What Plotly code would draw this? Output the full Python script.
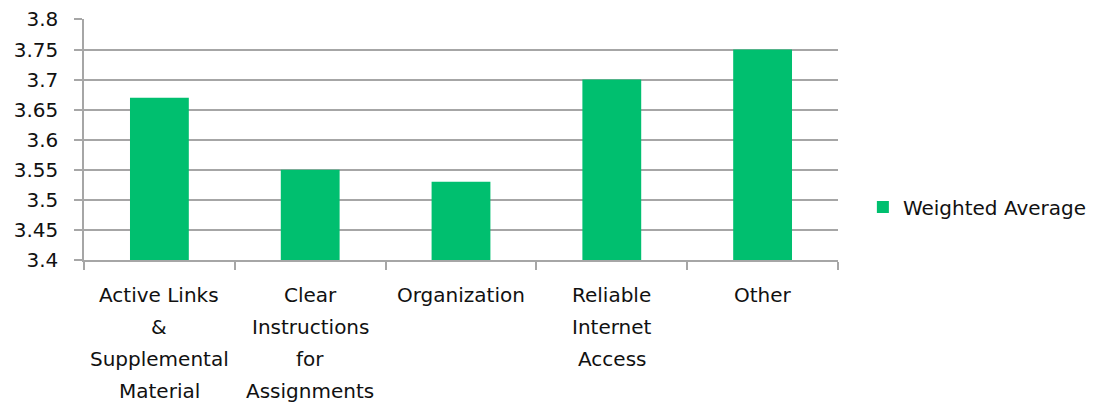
import plotly.graph_objects as go

categories = ["Active Links & Supplemental Material",
              "Clear Instructions for Assignments",
              "Organization",
              "Reliable Internet Access",
              "Other"]
label_lines = [["Active Links", "&", "Supplemental", "Material"],
               ["Clear", "Instructions", "for", "Assignments"],
               ["Organization"],
               ["Reliable", "Internet", "Access"],
               ["Other"]]
values = [3.67, 3.55, 3.53, 3.70, 3.75]
series_name = "Weighted Average"
y_ticks = [3.4, 3.45, 3.5, 3.55, 3.6, 3.65, 3.7, 3.75, 3.8]
y_ticktext = ["3.4", "3.45", "3.5", "3.55", "3.6", "3.65", "3.7", "3.75", "3.8"]

FONT = "DejaVu Sans"
FS = 20
TXT = "#111111"
GRID = "#a6a6a6"

fig = go.Figure()
fig.add_trace(go.Bar(
    x=categories, y=values, name=series_name,
    marker=dict(color="#00BF6F", line=dict(width=0)),
    showlegend=True,
))

for cat, lines in zip(categories, label_lines):
    for i, line in enumerate(lines):
        fig.add_annotation(x=cat, xref="x", y=0, yref="paper",
                           text=line, showarrow=False,
                           yanchor="middle", xanchor="center",
                           yshift=-(35 + 32 * i),
                           font=dict(family=FONT, size=FS, color=TXT))

fig.update_layout(
    width=1096, height=396,
    margin=dict(l=76, r=266, t=11, b=144, autoexpand=False),
    paper_bgcolor="white", plot_bgcolor="white",
    font=dict(family=FONT, size=FS, color=TXT),
    bargap=0.61,
    showlegend=True,
    legend=dict(x=1.033, y=0.22, xanchor="left", yanchor="middle",
                font=dict(family=FONT, size=FS, color=TXT),
                itemwidth=30, bgcolor="rgba(0,0,0,0)"),
    xaxis=dict(
        type="category",
        showline=True, linecolor=GRID, linewidth=1.5,
        ticks="outside", ticklen=8, tickcolor=GRID, tickwidth=1.5,
        tickson="boundaries",
        showgrid=False,
        showticklabels=False,
        automargin=False,
    ),
    yaxis=dict(
        range=[3.4, 3.8008],
        tickvals=y_ticks, ticktext=y_ticktext,
        showline=True, linecolor=GRID, linewidth=1.5,
        ticks="outside", ticklen=8, tickcolor=GRID, tickwidth=1.5,
        showgrid=True, gridcolor=GRID, gridwidth=1.5,
        zeroline=False,
        ticklabelstandoff=12,
        ticklabeloverflow="allow",
        automargin=False,
        tickfont=dict(family=FONT, size=FS, color=TXT),
    ),
)

fig.write_html("out.html")
